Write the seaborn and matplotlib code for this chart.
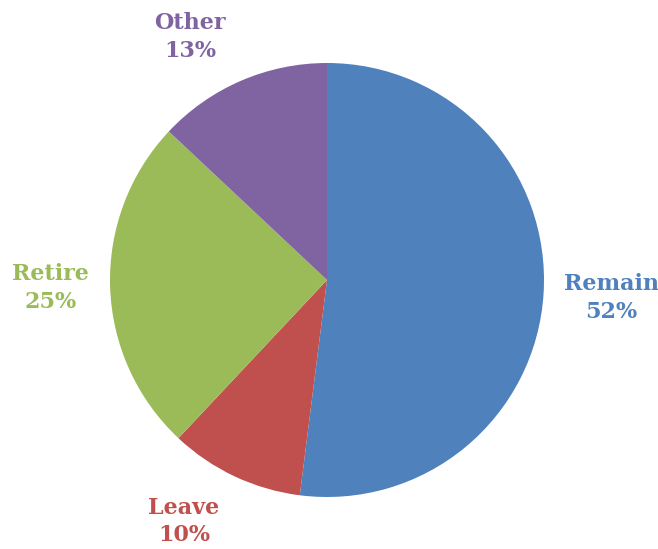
import matplotlib
matplotlib.use("Agg")
import matplotlib.pyplot as plt
import seaborn as sns

categories = ["Remain", "Leave", "Retire", "Other"]
shares = [52, 10, 25, 13]
colors = ["#4F81BD", "#C0504D", "#9BBB59", "#8064A2"]

sns.set_theme(style="white")
plt.rcParams['font.family'] = ['DejaVu Serif']

fig = plt.figure(figsize=(6.58, 5.49), dpi=100)
# pie centred at (327, 280) px with radius 217 px
ax = fig.add_axes([(327 - 217) / 658, (549 - 497) / 549, 434 / 658, 434 / 549])

labels = [f"{c}\n{s}%" for c, s in zip(categories, shares)]
wedges, texts = ax.pie(shares, labels=labels, colors=colors, startangle=90,
                       counterclock=False, labeldistance=1.29, radius=1,
                       wedgeprops=dict(linewidth=0),
                       textprops=dict(fontsize=16, fontweight="bold",
                                      ha="center", va="center",
                                      linespacing=1.3))
# label placement (in radius units) to match the reference layout
label_pos = [(1.309, -0.083), (-0.659, -1.111), (-1.276, -0.037), (-0.631, 1.120)]
for t, c, p in zip(texts, colors, label_pos):
    t.set_color(c)
    t.set_horizontalalignment("center")
    t.set_position(p)

ax.set_xlim(-1, 1)
ax.set_ylim(-1, 1)
ax.set_aspect("equal")
ax.axis("off")

fig.savefig("out.png", dpi=100)
plt.close()
